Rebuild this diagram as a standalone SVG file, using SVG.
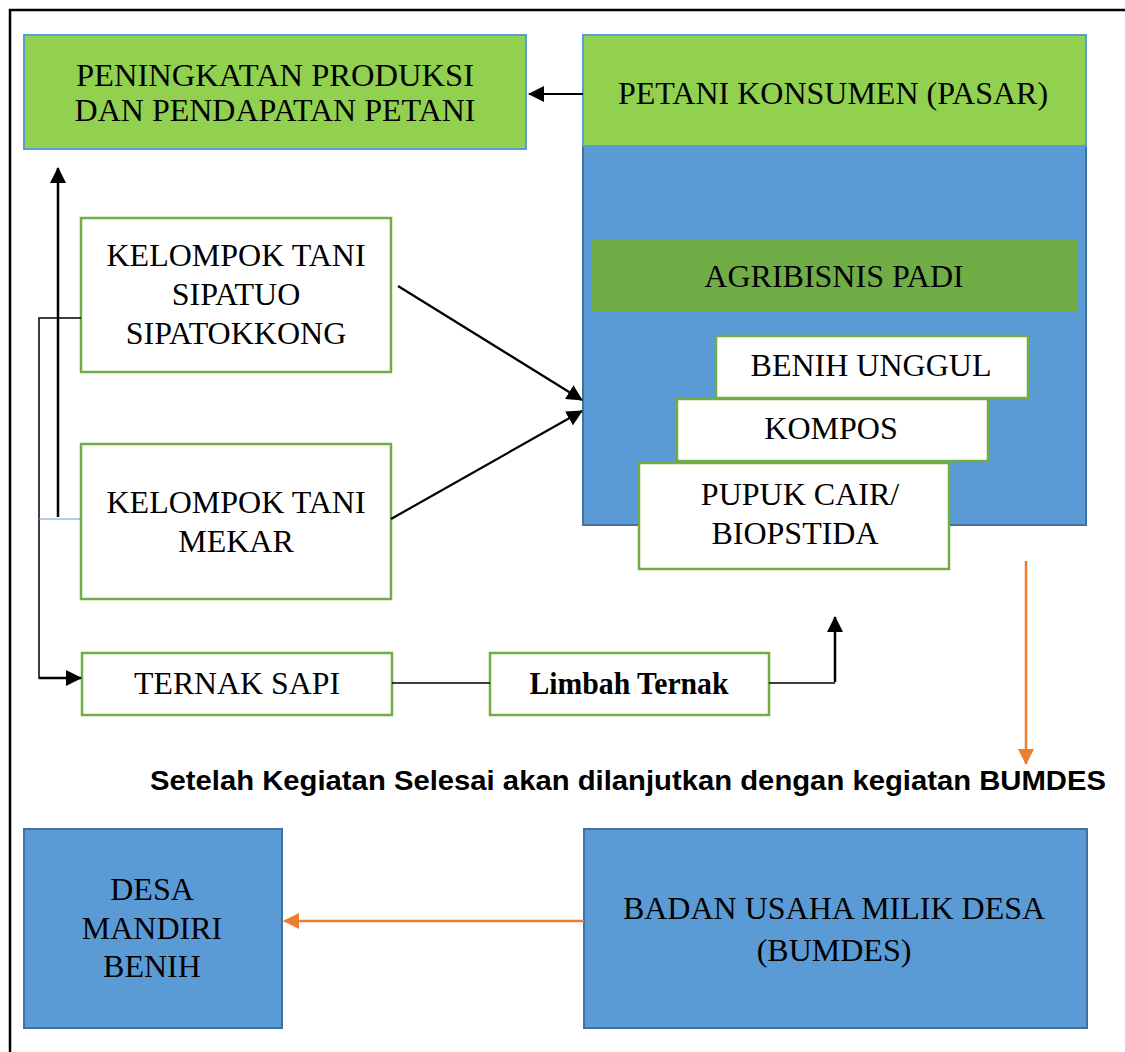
<svg xmlns="http://www.w3.org/2000/svg" width="1125" height="1052" viewBox="0 0 1125 1052">
<style>
  .t { font-family: "Liberation Serif", "Times New Roman", serif; font-size: 32px; fill: #000; text-anchor: middle; }
  .green { fill: #92d050; stroke: #5b9bd5; stroke-width: 2; }
  .blue { fill: #5b9bd5; stroke: #41719c; stroke-width: 2; }
  .wbox { fill: #fff; stroke: #70ad47; stroke-width: 2.5; }
  .blk { stroke: #000; fill: none; }
  .org { stroke: #ed7d31; stroke-width: 2.5; fill: none; }
</style>
<defs>
  <marker id="abL" markerWidth="16" markerHeight="16" refX="15" refY="8" orient="auto" markerUnits="userSpaceOnUse" viewBox="0 0 16 16">
    <path d="M0,0 L16,8 L0,16 Z" fill="#000"/>
  </marker>
  <marker id="ao" markerWidth="16" markerHeight="16" refX="15" refY="8" orient="auto" markerUnits="userSpaceOnUse" viewBox="0 0 16 16">
    <path d="M0,0 L16,8 L0,16 Z" fill="#ed7d31"/>
  </marker>
</defs>
<rect width="1125" height="1052" fill="#fff"/>
<!-- frame -->
<path d="M10,1052 L10,10 L1125,10" stroke="#000" stroke-width="2.5" fill="none"/>

<g id="peningkatan">
  <rect class="green" x="24" y="35" width="502" height="114"/>
  <text class="t" x="275" y="86" textLength="398" lengthAdjust="spacingAndGlyphs">PENINGKATAN PRODUKSI</text>
  <text class="t" x="275" y="121">DAN PENDAPATAN PETANI</text>
</g>
<g id="agri-container">
  <rect class="blue" x="583" y="146" width="503" height="379"/>
</g>
<g id="petani-konsumen">
  <rect class="green" x="583" y="35" width="503" height="111"/>
  <text class="t" x="833" y="104">PETANI KONSUMEN (PASAR)</text>
</g>
<g id="agribisnis-padi">
  <rect x="591" y="240" width="486" height="72" fill="#70ad47"/>
  <text class="t" x="834" y="287">AGRIBISNIS PADI</text>
</g>
<g id="benih-unggul">
  <rect class="wbox" x="716" y="336" width="312" height="62"/>
  <text class="t" x="871" y="376">BENIH UNGGUL</text>
</g>
<g id="kompos">
  <rect class="wbox" x="677" y="399" width="311" height="62"/>
  <text class="t" x="831" y="439">KOMPOS</text>
</g>
<g id="pupuk-cair">
  <rect class="wbox" x="639" y="463" width="310" height="106"/>
  <text class="t" x="800" y="505">PUPUK CAIR/</text>
  <text class="t" x="795" y="544">BIOPSTIDA</text>
</g>
<g id="kt-sipatuo">
  <rect class="wbox" x="81" y="218" width="310" height="154"/>
  <text class="t" x="236" y="266">KELOMPOK TANI</text>
  <text class="t" x="236" y="305">SIPATUO</text>
  <text class="t" x="236" y="344">SIPATOKKONG</text>
</g>
<g id="kt-mekar">
  <rect class="wbox" x="81" y="444" width="310" height="155"/>
  <text class="t" x="236" y="513">KELOMPOK TANI</text>
  <text class="t" x="236" y="552">MEKAR</text>
</g>
<g id="ternak-sapi">
  <rect class="wbox" x="82" y="653" width="310" height="62"/>
  <text class="t" x="237" y="694" textLength="206" lengthAdjust="spacingAndGlyphs">TERNAK SAPI</text>
</g>
<g id="limbah-ternak">
  <rect class="wbox" x="490" y="653" width="279" height="62"/>
  <text class="t" x="629" y="694" font-weight="bold" textLength="199" lengthAdjust="spacingAndGlyphs">Limbah Ternak</text>
</g>
<g id="note">
  <text x="628" y="790" font-family="Liberation Sans, Arial, sans-serif" font-weight="bold" font-size="28" text-anchor="middle" textLength="956" lengthAdjust="spacingAndGlyphs">Setelah Kegiatan Selesai akan dilanjutkan dengan kegiatan BUMDES</text>
</g>
<g id="desa-mandiri">
  <rect class="blue" x="24" y="829" width="258" height="199"/>
  <text class="t" x="152" y="900">DESA</text>
  <text class="t" x="152" y="939">MANDIRI</text>
  <text class="t" x="152" y="977">BENIH</text>
</g>
<g id="bumdes">
  <rect class="blue" x="584" y="829" width="503" height="199"/>
  <text class="t" x="834" y="919">BADAN USAHA MILIK DESA</text>
  <text class="t" x="834" y="961">(BUMDES)</text>
</g>

<g id="connectors">
  <line class="blk" x1="583" y1="94" x2="529" y2="94" stroke-width="2" marker-end="url(#abL)"/>
  <line class="blk" x1="398" y1="286" x2="582" y2="400" stroke-width="2.2" marker-end="url(#abL)"/>
  <line class="blk" x1="391" y1="519" x2="582" y2="411" stroke-width="2.2" marker-end="url(#abL)"/>
  <line class="blk" x1="58" y1="517" x2="58" y2="168" stroke-width="2.5" marker-end="url(#abL)"/>
  <path class="blk" d="M81,318 L39,318 L39,678 L60,678" stroke-width="1.5"/>
  <line class="blk" x1="39" y1="678" x2="81" y2="678" stroke-width="2.5" marker-end="url(#abL)"/>
  <line x1="39" y1="519" x2="81" y2="519" stroke="#5b9bd5" stroke-width="1"/>
  <line class="blk" x1="392" y1="683" x2="490" y2="683" stroke-width="1.5"/>
  <line class="blk" x1="769" y1="683" x2="835" y2="683" stroke-width="1.5"/>
  <line class="blk" x1="835" y1="682" x2="835" y2="617" stroke-width="2.5" marker-end="url(#abL)"/>
  <line class="org" x1="1026" y1="561" x2="1026" y2="764" marker-end="url(#ao)"/>
  <line class="org" x1="584" y1="921" x2="284" y2="921" marker-end="url(#ao)"/>
</g>
</svg>
